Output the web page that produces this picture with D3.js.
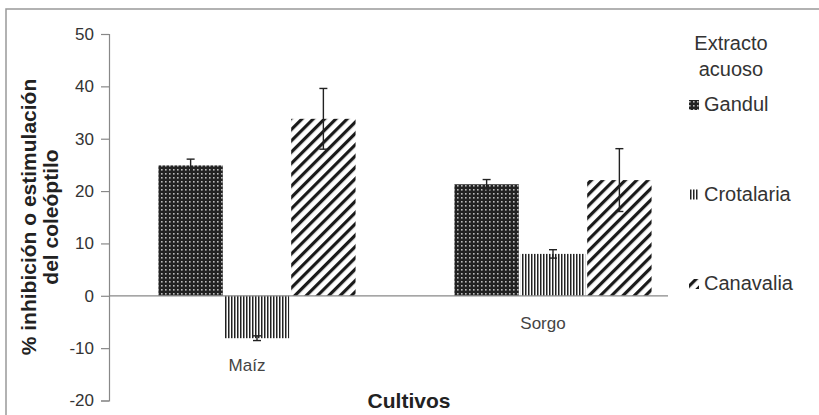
<html>
<head>
<meta charset='UTF-8'>
<script src="https://d3js.org/d3.v7.min.js"></script>
<style>
  body { margin: 0; background: #fff; }
  text { font-family: "Liberation Sans", Arial, sans-serif; }
</style>
</head>
<body>
<svg id="chart" width="819" height="415"></svg>
<script>
// data
const categories = ["Maíz", "Sorgo"];
const series = ["Gandul", "Crotalaria", "Canavalia"];
const gandul = [24.9, 21.3];
const crotalaria = [-8.1, 8.0];
const canavalia = [33.8, 22.1];
const gandulErr = [1.2, 0.9];
const crotalariaErr = [0.45, 0.8];
const canavaliaErr = [5.8, 6.0];
const yTicks = [-20, -10, 0, 10, 20, 30, 40, 50];

const values = [gandul, crotalaria, canavalia];
const errors = [gandulErr, crotalariaErr, canavaliaErr];

let svg = d3.select('svg#chart');

// patterns for the three extracts
let defs = svg.append('defs');
let pDots = defs.append('pattern').attr('id', 'p0')
  .attr('patternUnits', 'userSpaceOnUse').attr('width', 4).attr('height', 4);
pDots.append('rect').attr('width', 4).attr('height', 4).attr('fill', '#222');
pDots.append('rect').attr('x', 1).attr('y', 1).attr('width', 1.6).attr('height', 1.6).attr('fill', '#bbb');

let pVert = defs.append('pattern').attr('id', 'p1')
  .attr('patternUnits', 'userSpaceOnUse').attr('width', 3).attr('height', 3);
pVert.append('rect').attr('width', 3).attr('height', 3).attr('fill', '#fff');
pVert.append('rect').attr('width', 1.5).attr('height', 3).attr('fill', '#222');

let pDiag = defs.append('pattern').attr('id', 'p2')
  .attr('patternUnits', 'userSpaceOnUse').attr('width', 8).attr('height', 8)
  .attr('patternTransform', 'rotate(45)');
pDiag.append('rect').attr('width', 8).attr('height', 8).attr('fill', '#fff');
pDiag.append('rect').attr('width', 3.2).attr('height', 8).attr('fill', '#1a1a1a');

// outer frame
svg.append('rect').attr('x', 6).attr('y', 9).attr('width', 840).attr('height', 440)
  .attr('fill', 'none').attr('stroke', '#999').attr('stroke-width', 1.5);

// scales
let y = d3.scaleLinear().domain([-20, 50]).range([400.5, 34]);
let x0 = d3.scaleBand().domain(categories).range([109, 701])
  .paddingInner(0.334).paddingOuter(0.167);
let x1 = d3.scaleBand().domain(series).range([0, x0.bandwidth()]).paddingInner(0.03);

// y axis (plain hyphen for negatives, like the original)
let yAxis = svg.append('g').attr('transform', 'translate(109,0)')
  .call(d3.axisLeft(y).tickValues(yTicks).tickSize(8).tickPadding(7)
    .tickFormat(d => String(d)));
yAxis.select('.domain').attr('stroke', '#888').attr('stroke-width', 1.2);
yAxis.selectAll('.tick line').attr('stroke', '#888').attr('stroke-width', 1.2);
yAxis.selectAll('.tick text').attr('fill', '#333').style('font-size', '17px')
  .style('font-family', '"Liberation Sans", Arial, sans-serif');

// bars
categories.forEach((c, i) => {
  series.forEach((s, j) => {
    let v = values[j][i];
    let bx = x0(c) + x1(s);
    svg.append('rect')
      .attr('x', bx)
      .attr('y', y(Math.max(0, v)))
      .attr('width', x1.bandwidth())
      .attr('height', Math.abs(y(v) - y(0)))
      .attr('fill', 'url(#p' + j + ')');
  });
});

// zero line
svg.append('line').attr('x1', 109).attr('x2', 668)
  .attr('y1', y(0)).attr('y2', y(0))
  .attr('stroke', '#888').attr('stroke-width', 1.2);

// error bars
categories.forEach((c, i) => {
  series.forEach((s, j) => {
    let v = values[j][i], e = errors[j][i];
    let cx = x0(c) + x1(s) + x1.bandwidth() / 2;
    let g = svg.append('g').attr('stroke', '#222').attr('stroke-width', 1.4);
    g.append('line').attr('x1', cx).attr('x2', cx).attr('y1', y(v - e)).attr('y2', y(v + e));
    g.append('line').attr('x1', cx - 4).attr('x2', cx + 4).attr('y1', y(v + e)).attr('y2', y(v + e));
    g.append('line').attr('x1', cx - 4).attr('x2', cx + 4).attr('y1', y(v - e)).attr('y2', y(v - e));
  });
});

// category labels, placed below the lowest bar of the group
categories.forEach((c, i) => {
  let low = d3.min(values, vs => vs[i]);
  svg.append('text')
    .attr('x', x0(c) + x0.bandwidth() / 2 - 10)
    .attr('y', y(Math.min(0, low)) + 33)
    .attr('text-anchor', 'middle')
    .attr('fill', '#444')
    .style('font-size', '17px')
    .text(c);
});

// axis titles
svg.append('text').attr('x', 409).attr('y', 408).attr('text-anchor', 'middle')
  .attr('fill', '#222').style('font-size', '21px').style('font-weight', 'bold')
  .text('Cultivos');

let yt = svg.append('text').attr('transform', 'translate(0,217) rotate(-90)')
  .attr('text-anchor', 'middle').attr('fill', '#222')
  .style('font-size', '21px').style('font-weight', 'bold');
yt.append('tspan').attr('x', 0).attr('y', 36).text('% inhibición o estimulación');
yt.append('tspan').attr('x', 0).attr('y', 58).text('del coleóptilo');

// legend
svg.append('text').attr('x', 731).attr('y', 50).attr('text-anchor', 'middle')
  .attr('fill', '#333').style('font-size', '20px').text('Extracto');
svg.append('text').attr('x', 731).attr('y', 76).attr('text-anchor', 'middle')
  .attr('fill', '#333').style('font-size', '20px').text('acuoso');

let legendY = d3.scalePoint().domain(series).range([111, 290]);
series.forEach((s, j) => {
  svg.append('rect').attr('x', 689).attr('y', legendY(s) - 11)
    .attr('width', 10).attr('height', 10).attr('fill', 'url(#p' + j + ')');
  svg.append('text').attr('x', 704).attr('y', legendY(s))
    .attr('fill', '#333').style('font-size', '20px').text(s);
});
</script>
</body>
</html>
